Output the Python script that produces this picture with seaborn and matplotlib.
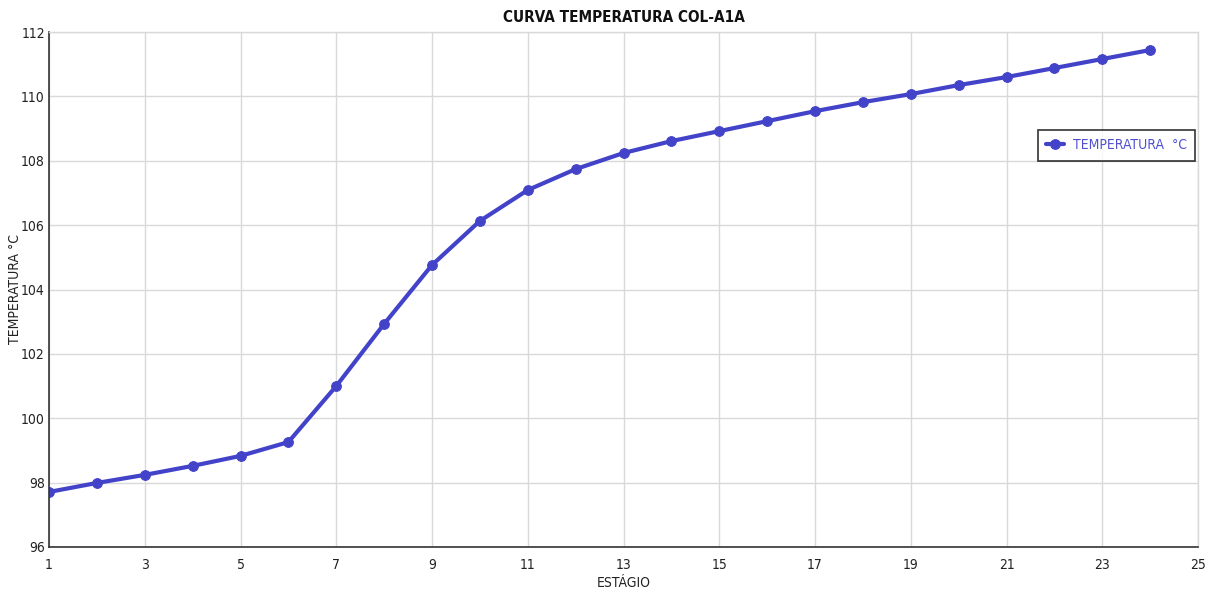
import matplotlib
matplotlib.use("Agg")
import matplotlib.pyplot as plt
import seaborn as sns
import pandas as pd

stages = list(range(1, 25))
temps = [97.71, 97.99, 98.24, 98.52, 98.83, 99.26, 101.0, 102.93, 104.76, 106.13,
         107.09, 107.74, 108.24, 108.61, 108.92, 109.23, 109.54, 109.82, 110.07,
         110.35, 110.60, 110.88, 111.16, 111.44]
x_ticks = list(range(1, 26, 2))
y_ticks = list(range(96, 113, 2))

sns.set_theme(style="whitegrid")
plt.rcParams['font.family'] = ['DejaVu Sans']
plt.rcParams['font.stretch'] = 'condensed'

df = pd.DataFrame({"ESTÁGIO": stages, "TEMPERATURA  °C": temps})

fig = plt.figure(figsize=(12.12, 5.92), dpi=100)
ax = fig.add_axes([49/1212, 1-547/592, (1198-49)/1212, (547-32)/592])
color = "#4343C9"
sns.lineplot(data=df, x="ESTÁGIO", y="TEMPERATURA  °C", ax=ax, color=color,
             linewidth=3, marker="o", markersize=7, markeredgecolor=color,
             label="TEMPERATURA  °C")

ax.set_xlim(1, 25)
ax.set_ylim(96, 112)
ax.set_xticks(x_ticks)
ax.set_yticks(y_ticks)
ax.grid(True, color="#d9d9d9", linewidth=1)
ax.spines["top"].set_color("#d9d9d9")
ax.spines["right"].set_color("#d9d9d9")
ax.spines["top"].set_linewidth(1)
ax.spines["right"].set_linewidth(1)
for s in ["left", "bottom"]:
    ax.spines[s].set_color("#333333")
    ax.spines[s].set_linewidth(1.2)
ax.tick_params(axis="both", labelsize=10, colors="#222222", length=4, width=1,
               direction="out", pad=4)
ax.tick_params(axis="y", length=0, pad=3)
ax.set_xlabel("ESTÁGIO", fontsize=10, color="#222222", labelpad=3)
ax.set_ylabel("TEMPERATURA °C", fontsize=10, color="#222222")
ax.yaxis.set_label_coords(-(49 - 22) / 1149, 0.5)
ax.set_title("CURVA TEMPERATURA COL-A1A", fontsize=11, fontweight="bold",
             color="#111111", pad=7)

leg = ax.legend(loc="upper right", bbox_to_anchor=(0.9974, 0.81), frameon=True,
                fancybox=False, fontsize=10, borderpad=0.6, handlelength=1.3,
                handletextpad=0.6, borderaxespad=0)
leg.get_frame().set_edgecolor("black")
leg.get_frame().set_linewidth(1.2)
for t in leg.get_texts():
    t.set_color("#5050D0")

fig.savefig("out.png", dpi=100)
